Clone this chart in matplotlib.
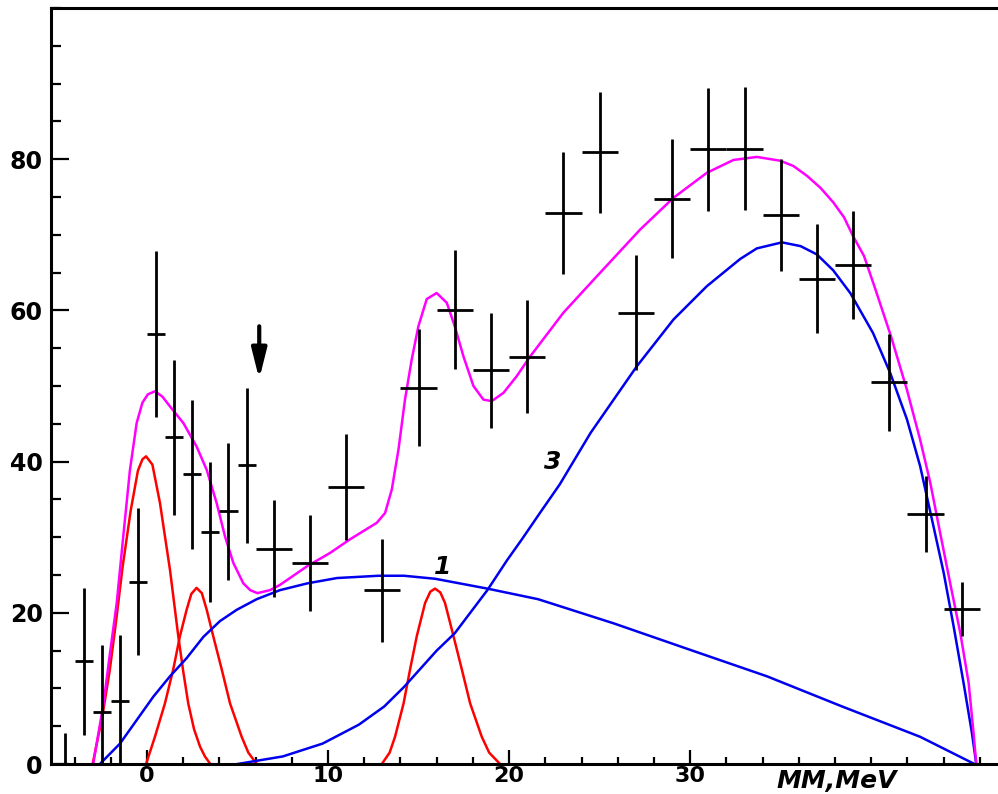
import matplotlib
matplotlib.use("Agg")
import matplotlib.pyplot as plt
from matplotlib.ticker import MultipleLocator
from matplotlib.transforms import blended_transform_factory

# -------------------------
# Data points (bin centre, counts, error, half bin width)
# -------------------------
x_data = [-4.5, -3.5, -2.5, -1.5, -0.5, 0.5, 1.5, 2.5, 3.5, 4.5, 5.5,
          7, 9, 11, 13, 15, 17, 19, 21, 23, 25, 27, 29, 31, 33, 35, 37, 39, 41, 43, 45]
y_data = [0, 13.6, 6.9, 8.3, 24.1, 56.9, 43.2, 38.3, 30.7, 33.4, 39.5,
          28.5, 26.6, 36.6, 23.0, 49.8, 60.1, 52.1, 53.9, 72.9, 80.9, 59.7, 74.8,
          81.3, 81.4, 72.6, 64.2, 66.0, 50.5, 33.1, 20.5]
y_err = [4.1, 9.7, 8.9, 8.8, 9.7, 11.0, 10.2, 9.8, 9.3, 9.0, 10.3,
         6.4, 6.4, 7.0, 6.8, 7.7, 7.9, 7.6, 7.5, 8.1, 8.0, 7.6, 7.9,
         8.1, 8.1, 7.4, 7.2, 7.1, 6.4, 5.0, 3.6]
x_half = [0.5] * 11 + [1.0] * 20

# -------------------------
# Fit curves
# -------------------------
red1_x = [-3.0, -2.45, -2.05, -1.7, -1.35, -0.9, -0.5, -0.25, -0.05, 0.3, 0.72,
          1.0, 1.27, 1.5, 1.73, 2.0, 2.28, 2.6, 2.93, 3.2, 3.5]
red1_y = [0, 6.5, 12.5, 19.0, 26.0, 33.5, 38.8, 40.3, 40.7, 39.6, 34.5,
          30.0, 25.7, 21.3, 16.9, 12.3, 8.0, 4.6, 2.3, 1.0, 0]

red2_x = [-0.05, 0.44, 0.99, 1.45, 1.82, 2.19, 2.45, 2.74, 3.03, 3.3, 3.66,
          4.13, 4.59, 5.23, 5.6, 6.06]
red2_y = [0, 3.6, 8.0, 12.5, 16.9, 20.4, 22.5, 23.3, 22.6, 20.4, 16.9,
          12.5, 8.0, 3.6, 1.5, 0]

red3_x = [12.97, 13.4, 13.7, 14.17, 14.53, 14.9, 15.36, 15.65, 15.91, 16.2,
          16.46, 16.93, 17.39, 17.85, 18.49, 18.9, 19.5]
red3_y = [0, 1.5, 3.6, 8.0, 12.5, 16.9, 21.3, 22.8, 23.2, 22.7,
          21.3, 16.9, 12.5, 8.0, 3.6, 1.5, 0]

blue1_x = [-2.6, -1.49, -0.57, 0.35, 1.27, 2.19, 3.11, 4.03, 4.96, 6.06, 7.35,
           8.87, 10.5, 12.8, 14.2, 15.92, 18.8, 21.6, 25.78, 30.0, 34.24, 38.4,
           42.7, 45.7]
blue1_y = [0, 2.7, 5.8, 8.9, 11.6, 14.0, 16.8, 18.9, 20.4, 21.8, 23.0,
           23.9, 24.6, 24.9, 24.9, 24.5, 23.2, 21.8, 18.6, 15.1, 11.6, 7.6,
           3.6, 0]

blue3_x = [5.0, 7.5, 9.7, 11.7, 13.1, 14.2, 16.0, 17.0, 18.8, 19.9, 20.7,
           21.7, 22.8, 24.5, 27.05, 29.08, 30.92, 32.76, 33.68, 35.07, 36.1,
           37.0, 37.9, 38.84, 40.1, 41.05, 41.97, 42.7, 43.44, 44.0, 44.55,
           45.1, 45.56, 45.8]
blue3_y = [0, 1.0, 2.7, 5.2, 7.6, 10.2, 15.0, 17.3, 23.0, 27.0, 29.7,
           33.2, 37.0, 43.8, 52.6, 58.8, 63.2, 66.8, 68.2, 69.0, 68.5,
           67.4, 65.3, 62.3, 57.0, 51.7, 45.6, 39.4, 31.4, 25.3, 18.2,
           10.7, 4.1, 0]

total_x = [-2.97, -2.4, -2.04, -1.67, -1.31, -0.94, -0.57, -0.25, 0.05, 0.44, 0.85,
           1.27, 2.01, 2.74, 3.3, 3.85, 4.31, 4.77, 5.32, 5.7, 6.1, 6.8, 7.35,
           8.87, 10.1, 11.2, 12.69, 13.15, 13.52, 13.89, 14.25, 14.62, 14.99,
           15.45, 16.0, 16.56, 17.0, 17.48, 18.03, 18.58, 19.04, 19.69, 20.42,
           21.16, 23.0, 24.84, 27.24, 29.08, 30.92, 32.39, 33.68, 34.97, 35.7,
           36.45, 37.2, 37.9, 38.5, 39.0, 39.6, 40.2, 41.1, 41.97, 42.7, 43.26,
           43.81, 44.36, 44.92, 45.38, 45.65, 45.8]
total_y = [0, 8.0, 14.7, 21.3, 30.1, 38.9, 45.1, 47.8, 48.9, 49.3, 48.6,
           47.3, 45.1, 42.0, 38.9, 34.5, 30.1, 26.6, 23.9, 23.0, 22.6, 23.0, 23.7,
           26.2, 27.9, 29.7, 31.9, 33.2, 36.3, 41.6, 48.2, 53.5, 57.9,
           61.5, 62.3, 61.0, 57.9, 53.9, 50.0, 48.2, 48.0, 49.1, 51.3,
           53.9, 59.7, 64.5, 70.7, 74.9, 78.2, 79.9, 80.3, 79.8, 79.1,
           77.8, 76.2, 74.3, 72.3, 69.8, 67.2, 63.0, 56.5, 49.5, 42.9, 37.2,
           30.5, 23.9, 17.3, 10.7, 4.1, 0]

y_ticks = [0, 20, 40, 60, 80]
x_ticks = [0, 10, 20, 30]

# -------------------------
# Plot
# -------------------------
fig = plt.figure(figsize=(9.98, 7.94), dpi=100)
ax = fig.add_axes([51 / 998, 30 / 794, 947 / 998, 756 / 794])

lw = 1.8
ax.plot(red1_x, red1_y, color="#ff0000", lw=lw)
ax.plot(red2_x, red2_y, color="#ff0000", lw=lw)
ax.plot(red3_x, red3_y, color="#ff0000", lw=lw)
ax.plot(blue1_x, blue1_y, color="#0000ee", lw=lw)
ax.plot(blue3_x, blue3_y, color="#0000ee", lw=lw)
ax.plot(total_x, total_y, color="#ff00ff", lw=lw)

ax.errorbar(x_data, y_data, xerr=x_half, yerr=y_err, fmt="none",
            ecolor="black", elinewidth=2.0, capsize=0)

ax.annotate("", xy=(6.2, 50.9), xytext=(6.2, 57.9),
            arrowprops=dict(arrowstyle="-|>,head_length=0.6,head_width=0.15",
                            mutation_scale=30, lw=3, color="black",
                            shrinkA=0, shrinkB=0))

lab_font = dict(fontsize=18, fontweight="bold", fontstyle="italic",
                family="DejaVu Sans")
ax.text(16.3, 26.1, "1", ha="center", va="center", **lab_font)
ax.text(22.4, 39.9, "3", ha="center", va="center", **lab_font)

ax.set_xlim(-5.3, 47.0)
ax.set_ylim(0, 100)
ax.set_xticks(x_ticks)
ax.set_yticks(y_ticks)
ax.xaxis.set_minor_locator(MultipleLocator(2))
ax.yaxis.set_minor_locator(MultipleLocator(5))
ax.tick_params(which="both", direction="in", width=1.6, top=False, right=False)
ax.tick_params(axis="x", which="major", length=10, pad=1.5)
ax.tick_params(axis="x", which="minor", length=5)
ax.tick_params(axis="y", which="major", length=13, pad=6)
ax.tick_params(axis="y", which="minor", length=7)
for lbl in ax.get_xticklabels():
    lbl.set_fontsize(16)
    lbl.set_fontweight("bold")
    lbl.set_family("DejaVu Sans")
for lbl in ax.get_yticklabels():
    lbl.set_fontsize(17)
    lbl.set_fontweight("bold")
    lbl.set_family("DejaVu Sans")

for side in ["left", "bottom", "top"]:
    ax.spines[side].set_linewidth(2.2)
ax.spines["right"].set_visible(False)

trans = blended_transform_factory(ax.transData, fig.transFigure)
ax.text(38.1, 1 / 794, "MM,MeV", transform=trans, ha="center", va="bottom",
        fontsize=18, fontweight="bold", fontstyle="italic", family="DejaVu Sans")

fig.savefig("out.png", dpi=100)
